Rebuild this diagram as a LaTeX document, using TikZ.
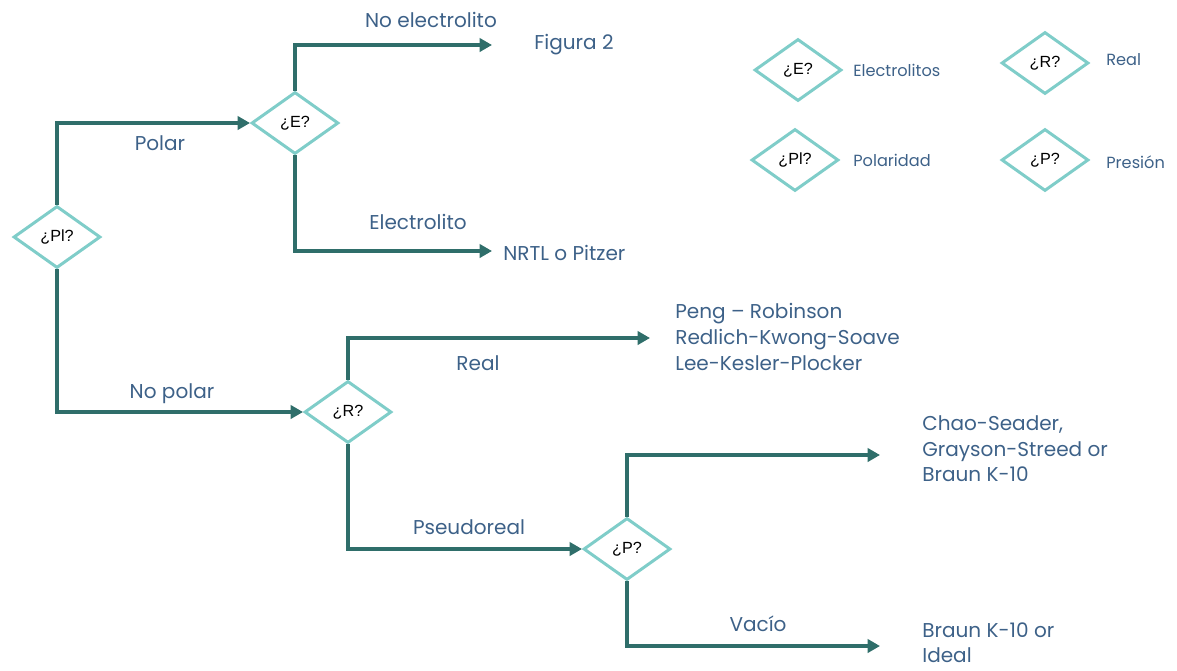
\documentclass[tikz,border=0pt]{standalone}
\usepackage{fontspec}
\setmainfont{Poppins}
\newfontfamily\arialfont{Liberation Sans}
\usepackage{xcolor}
\usepackage{tikz}
\usetikzlibrary{shapes.geometric, arrows.meta, positioning, calc}

\definecolor{lineteal}{HTML}{2F6E6A}
\definecolor{boxteal}{HTML}{7FCDC9}
\definecolor{textblue}{HTML}{3D6188}

\begin{document}
\begin{tikzpicture}[x=0.02cm, y=-0.02cm,
        decision/.style={diamond, draw=boxteal, line width=1.7pt, fill=white,
            minimum width=1.74cm, minimum height=1.24cm, inner sep=0pt,
            font=\arialfont\fontsize{9.2}{11}\selectfont},
        conn/.style={draw=lineteal, line width=1.8pt, -{Triangle[length=7pt, width=7.5pt]}},
        lbl/.style={text=textblue, font=\fontsize{11.4}{14.6}\selectfont, inner sep=0pt},
        key/.style={text=textblue, font=\fontsize{9.2}{11}\selectfont, inner sep=0pt}]
        \useasboundingbox (0,0) rectangle (1177,670);

        % decisions
        \node[decision] (pl) at (57,237) {¿Pl?};
        \node[decision] (el) at (295,123) {¿E?};
        \node[decision] (re) at (348,412) {¿R?};
        \node[decision] (pr) at (627,549) {¿P?};

        % free ends
        \coordinate (noel) at (492,45);
        \coordinate (elec) at (492,251);
        \coordinate (real) at (650,338);
        \coordinate (alta) at (880,455);
        \coordinate (vac) at (880,646);

        % connectors
        \draw[conn] (pl.north) |- (el.west);
        \draw[conn] (pl.south) |- (re.west);
        \draw[conn] (el.north) |- (noel);
        \draw[conn] (el.south) |- (elec);
        \draw[conn] (re.north) |- (real);
        \draw[conn] (re.south) |- (pr.west);
        \draw[conn] (pr.north) |- (alta);
        \draw[conn] (pr.south) |- (vac);

        % branch labels
        \node[lbl] (lpolar) at (160,143) {Polar};
        \node[lbl] (lnopolar) at (172,394) {No polar};
        \node[lbl] (lnoel) at (431,20) {No electrolito};
        \node[lbl] (lelec) at (418,222) {Electrolito};
        \node[lbl] (lreal) at (478,363) {Real};
        \node[lbl] (lpseudo) at (469,527) {Pseudoreal};
        \node[lbl] (lvacio) at (758,624) {Vacío};

        % results
        \node[lbl, anchor=west] (fig2) at (534,45) {Figura 2};
        \node[lbl, anchor=west] (nrtl) at (503,253) {NRTL o Pitzer};
        \node[lbl, anchor=west, align=left] (eos) at (675,337)
            {Peng -- Robinson\\Redlich-Kwong-Soave\\Lee-Kesler-Plocker};
        \node[lbl, anchor=west, align=left] (chao) at (922,449)
            {Chao-Seader,\\Grayson-Streed or\\Braun K-10};
        \node[lbl, anchor=north west, align=left] (braun) at (922,622)
            {Braun K-10 or\\Ideal};

        % legend
        \node[decision] (kel) at (798,70) {¿E?};
        \node[decision] (kre) at (1045,63) {¿R?};
        \node[decision] (kpl) at (795,160) {¿Pl?};
        \node[decision] (kpr) at (1045,160) {¿P?};
        \node[key, anchor=west] (tel) at (853,70) {Electrolitos};
        \node[key, anchor=west] (tre) at (1106,60) {Real};
        \node[key, anchor=west] (tpl) at (853,160) {Polaridad};
        \node[key, anchor=west] (tpr) at (1106,162) {Presión};
    \end{tikzpicture}
\end{document}
